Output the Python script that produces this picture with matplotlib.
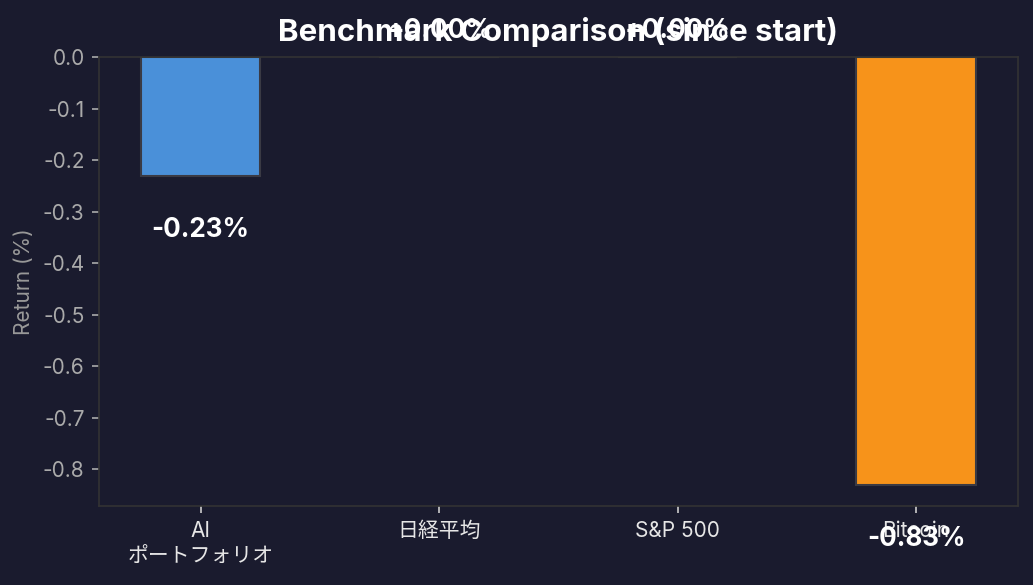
import matplotlib
matplotlib.use('Agg')
import matplotlib.pyplot as plt

plt.rcParams['font.family'] = ['Inter', 'Noto Sans CJK JP', 'DejaVu Sans']
plt.rcParams['axes.unicode_minus'] = False

# data
labels = ['AI\nポートフォリオ', '日経平均', 'S&P 500', 'Bitcoin']
returns = [-0.23, 0.00, 0.00, -0.83]
colors = ['#4a90d9', '#5c6bc0', '#66bb6a', '#f7931a']

bg = '#1a1b2e'

fig, ax = plt.subplots(figsize=(1033 / 150, 585 / 150), dpi=150)
fig.patch.set_facecolor(bg)
ax.set_facecolor(bg)

bars = ax.bar(range(len(labels)), returns, width=0.5, color=colors,
              edgecolor='#3a3a44', linewidth=1)

for i, v in enumerate(returns):
    if v >= 0:
        ax.text(i, v + 0.025, f'+{v:.2f}%', ha='center', va='bottom',
                color='white', fontsize=12.5, fontweight='bold')
    else:
        ax.text(i, v - 0.08, f'{v:.2f}%', ha='center', va='top',
                color='white', fontsize=12.5, fontweight='bold')

ax.set_xticks(range(len(labels)))
ax.set_xticklabels(labels, color='#e6e6e6', fontsize=10, linespacing=1.4)
ax.tick_params(axis='y', colors='#aaaaaa', labelsize=10)
ax.tick_params(axis='x', colors='#cccccc')
for lab in ax.get_xticklabels():
    lab.set_color('#e6e6e6')
ax.set_ylabel('Return (%)', color='#999999', fontsize=10)
ax.set_title('Benchmark Comparison (since start)', color='white',
             fontsize=15, fontweight='bold', pad=8)

for sp in ax.spines.values():
    sp.set_color('#333333')

fig.subplots_adjust(left=0.096, right=0.985, top=0.902, bottom=0.135)
fig.savefig('out.png', dpi=150, facecolor=bg)
